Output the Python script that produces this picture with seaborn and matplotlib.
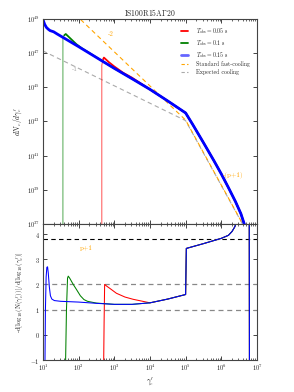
import numpy as np
import pandas as pd
import matplotlib
matplotlib.use("Agg")
import matplotlib.pyplot as plt
import matplotlib.ticker as mt
from matplotlib.lines import Line2D
import seaborn as sns

sns.set_style("ticks")
plt.rcParams["font.family"] = ["serif"]
plt.rcParams["font.serif"] = ["cmr10", "DejaVu Serif"]
plt.rcParams["mathtext.fontset"] = "cm"
plt.rcParams["axes.formatter.use_mathtext"] = True
plt.rcParams["axes.unicode_minus"] = False

# ---------------- data (log10 values) ----------------
# top panel: log10(gamma'_e) and log10(dN/dgamma'_e)
tail_lx = [4.0, 4.5, 5.0, 5.2, 5.5, 5.8, 6.0, 6.2, 6.4, 6.55, 6.66]
tail_ly = [44.88, 44.2, 43.5, 42.82, 41.76, 40.68, 39.93, 39.13, 38.3, 37.6, 36.9]

blue_lx = [1.0, 1.02, 1.05, 1.1, 1.15, 1.2, 1.3, 1.4, 1.66, 2.0, 2.7, 3.0, 3.5]
blue_ly = [49.0, 48.85, 48.68, 48.5, 48.4, 48.32, 48.25, 48.12, 47.8, 47.38, 46.49, 46.11, 45.5]

red_lx = [2.65, 2.65, 2.69, 2.71, 2.85, 3.0, 3.25, 3.5, 3.75]
red_ly = [36.0, 46.3, 46.65, 46.74, 46.47, 46.22, 45.85, 45.56, 45.22]

green_lx = [1.56, 1.56, 1.6, 1.64, 1.8, 1.94, 2.1, 2.22, 2.7, 3.0, 3.5]
green_ly = [36.0, 47.9, 48.05, 48.12, 47.8, 47.52, 47.27, 47.12, 46.49, 46.11, 45.5]

fast_lx = [1.9, 5.0, 6.7]
fast_ly = [49.28, 43.08, 36.62]
exp_lx = [1.0, 5.0, 6.7]
exp_ly = [47.13, 43.05, 36.6]

# bottom panel: log10(gamma'_e) and local index -dlogN/dlog(gamma)
itail_lx = [4.0, 4.5, 5.0, 5.02, 5.5, 6.0, 6.2, 6.3, 6.38, 6.45, 6.55, 6.65, 6.78, 6.79]
itail_iy = [1.27, 1.42, 1.6, 3.43, 3.62, 3.83, 3.95, 4.1, 4.29, 4.6, 5.2, 6.5, 9.0, -2.0]

iblue_lx = [1.055, 1.07, 1.09, 1.11, 1.13, 1.15, 1.18, 1.21, 1.25, 1.32, 1.5, 2.0, 2.5, 3.0, 3.5]
iblue_iy = [-1.5, 1.0, 2.3, 2.68, 2.7, 2.45, 1.9, 1.55, 1.42, 1.36, 1.33, 1.3, 1.25, 1.21, 1.21]

ired_lx = [2.70, 2.715, 2.73, 2.8, 2.87, 3.06, 3.3, 3.53, 3.8]
ired_iy = [-1.5, 0.5, 2.0, 1.92, 1.85, 1.65, 1.5, 1.41, 1.33]

igreen_lx = [1.63, 1.66, 1.69, 1.71, 1.75, 1.85, 1.94, 2.05, 2.15, 2.25, 2.5, 3.0, 3.5]
igreen_iy = [-1.5, 1.0, 2.25, 2.33, 2.25, 2.0, 1.8, 1.55, 1.4, 1.33, 1.26, 1.21, 1.21]

p_plus_1 = 3.8
ref_levels = [2.0, 1.0]

labels = [r"$T_{\rm obs}=0.05$ s", r"$T_{\rm obs}=0.1$ s", r"$T_{\rm obs}=0.15$ s",
          "Standard fast-cooling", "Expected cooling"]

fig = plt.figure(figsize=(2.94, 3.92), dpi=100)
ax1 = fig.add_axes([0.146, 0.4286, 0.728, 0.523])
ax2 = fig.add_axes([0.146, 0.0816, 0.728, 0.347])


# ---------------- top panel ----------------
def top(lx, ly, color, lw, ls="-", alpha=1.0):
    d = pd.DataFrame({"x": 10.0 ** np.asarray(lx), "y": 10.0 ** np.asarray(ly, dtype=float)})
    sns.lineplot(data=d, x="x", y="y", ax=ax1, color=color, lw=lw, ls=ls, sort=False,
                 estimator=None, alpha=alpha)


top(exp_lx, exp_ly, "#aaaaaa", 0.8, (0, (4, 3)))
top(fast_lx, fast_ly, "#ffa500", 0.8, (0, (4, 3)))
top(red_lx[:3], red_ly[:3], "red", 0.8, alpha=0.6)
top(red_lx[2:] + tail_lx, red_ly[2:] + tail_ly, "red", 1.3)
top(green_lx[:3], green_ly[:3], "green", 0.8, alpha=0.6)
top(green_lx[2:] + tail_lx, green_ly[2:] + tail_ly, "green", 1.3)
top(blue_lx + tail_lx, blue_ly + tail_ly, "blue", 2.0)

ax1.set_xscale("log")
ax1.set_yscale("log")
ax1.set_xlim(10, 1e7)
ax1.set_ylim(1e37, 1e49)
ax1.yaxis.set_major_locator(mt.FixedLocator([1e37, 1e39, 1e41, 1e43, 1e45, 1e47, 1e49]))
ax1.yaxis.set_major_formatter(mt.LogFormatterMathtext())
ax1.yaxis.set_minor_locator(mt.NullLocator())
ax1.xaxis.set_major_locator(mt.LogLocator(base=10, numticks=10))
ax1.xaxis.set_minor_locator(mt.LogLocator(base=10, subs=np.arange(2, 10), numticks=20))
ax1.set_xticklabels([])
ax1.xaxis.set_minor_formatter(mt.NullFormatter())
ax1.set_xlabel("")
ax1.set_ylabel(r"$dN_e/d\gamma_e'$", fontsize=5.5, labelpad=2)
ax1.set_title(r"IS100R15A$\Gamma$20", fontsize=5.5, pad=2)

ax1.text(10 ** 2.82, 10 ** 48.0, "-2", color="#ffa500", fontsize=5)
ax1.text(10 ** 1.81, 10 ** 45.96, "-1", color="#aaaaaa", fontsize=5)
ax1.text(10 ** 6.05, 10 ** 39.75, "-(p+1)", color="#ffa500", fontsize=5)

handles = [Line2D([], [], color="red", lw=1.3), Line2D([], [], color="green", lw=1.3),
           Line2D([], [], color="blue", lw=2.0, alpha=0.6),
           Line2D([], [], color="#ffa500", lw=0.8, ls=(0, (3, 2))),
           Line2D([], [], color="#aaaaaa", lw=0.8, ls=(0, (3, 2)))]
ax1.legend(handles, labels, loc="upper right", bbox_to_anchor=(0.985, 0.985), frameon=False,
           fontsize=4.2, handlelength=1.2, handletextpad=1.4, labelspacing=0.3, borderpad=0.2)


# ---------------- bottom panel ----------------
def bot(lx, iy, color):
    d = pd.DataFrame({"x": 10.0 ** np.asarray(lx), "y": np.asarray(iy, dtype=float)})
    sns.lineplot(data=d, x="x", y="y", ax=ax2, color=color, lw=0.75, sort=False, estimator=None)


for lev in ref_levels:
    ax2.axhline(lev, color="#888888", lw=0.9, ls=(0, (4, 3)))
ax2.axhline(p_plus_1, color="black", lw=0.8, ls=(0, (4, 3)))
bot(ired_lx + itail_lx, ired_iy + itail_iy, "red")
bot(igreen_lx + itail_lx, igreen_iy + itail_iy, "green")
bot(iblue_lx + itail_lx, iblue_iy + itail_iy, "blue")

ax2.set_xscale("log")
ax2.set_xlim(10, 1e7)
ax2.set_ylim(-1, 4.4)
ax2.set_yticks([-1, 0, 1, 2, 3, 4])
ax2.xaxis.set_major_locator(mt.LogLocator(base=10, numticks=10))
ax2.xaxis.set_minor_locator(mt.LogLocator(base=10, subs=np.arange(2, 10), numticks=20))
ax2.xaxis.set_minor_formatter(mt.NullFormatter())
ax2.text(10 ** 2.21, 3.45, "p+1", color="#ffa500", fontsize=5, ha="center", va="center")
ax2.set_xlabel(r"$\gamma_e'$", fontsize=5.5, labelpad=2)
ax2.set_ylabel(r"-d[log$_{10}$(N($\gamma_e'$))]/d[log$_{10}$($\gamma_e'$)]", fontsize=4.8, labelpad=3)

for ax in (ax1, ax2):
    ax.tick_params(which="both", direction="in", top=True, right=True, labelsize=4.6, pad=2)
    ax.tick_params(which="major", length=3, width=0.6)
    ax.tick_params(which="minor", length=1.6, width=0.5)
    for s in ax.spines.values():
        s.set_linewidth(0.8)
        s.set_color("#444444")

fig.savefig("out.png", dpi=100)
